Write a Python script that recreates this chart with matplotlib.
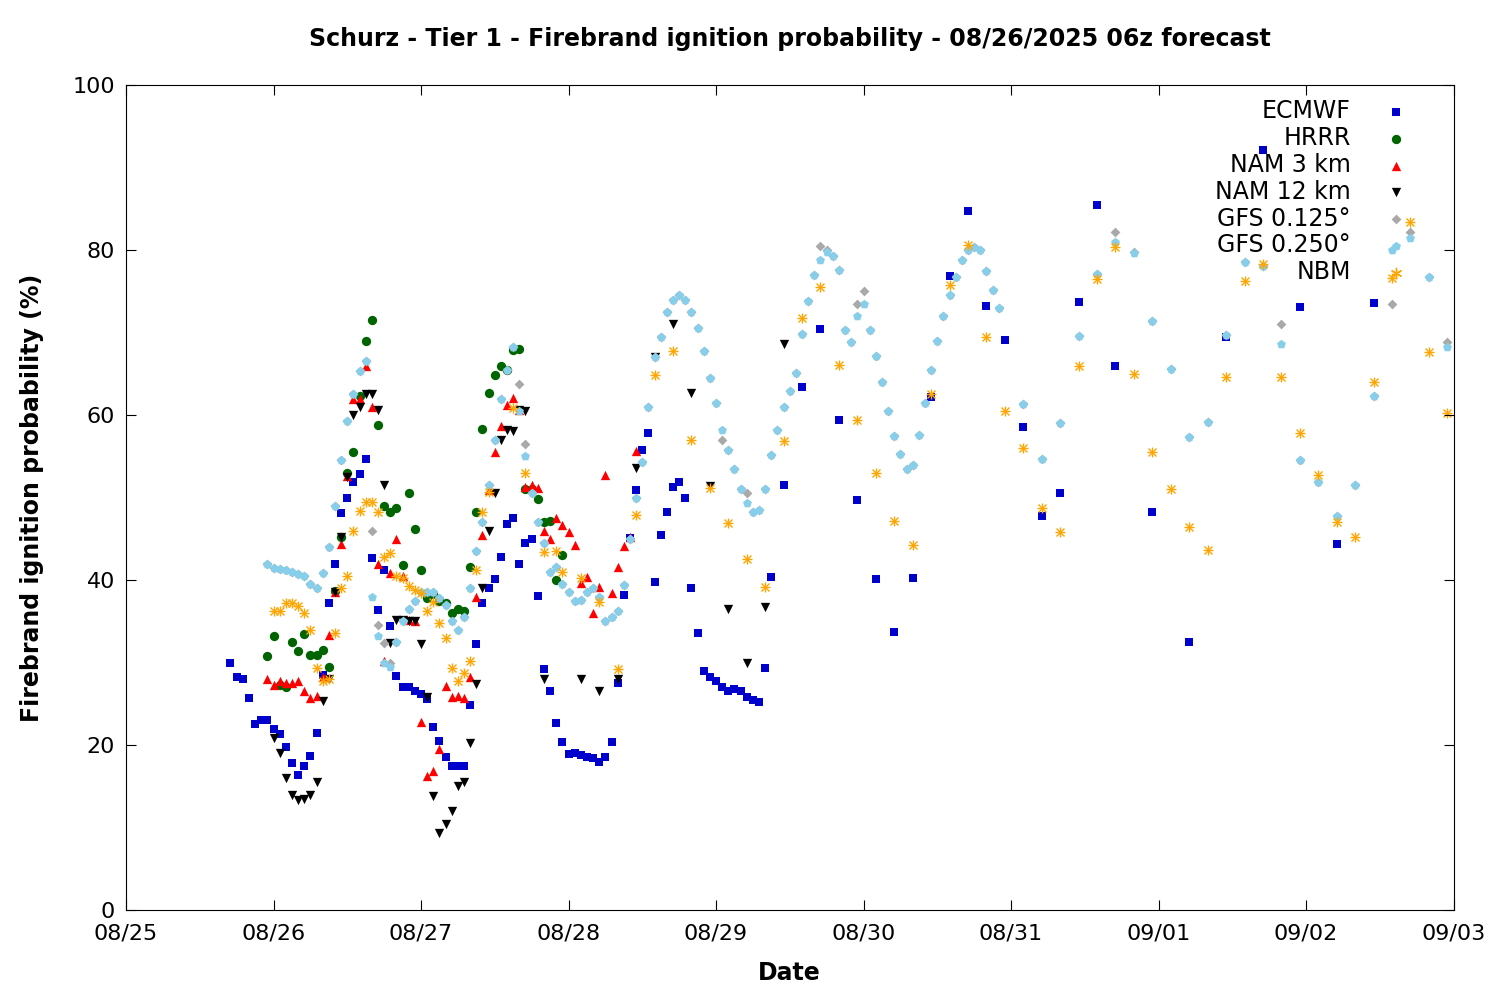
import matplotlib
matplotlib.use("Agg")
import matplotlib.pyplot as plt
import matplotlib.dates as mdates
import numpy as np
import pandas as pd

t0 = pd.Timestamp("2025-08-25 00:00")

# ECMWF: hourly 17..105, 3-hourly 107..161, 6-hourly 167..203
ecmwf_hours = list(range(17, 106)) + list(range(107, 162, 3)) + list(range(167, 204, 6))
ecmwf = [30, 28.2, 28, 25.7, 22.5, 23, 23, 22, 21.3, 19.8, 17.8, 16.4, 17.4, 18.7, 21.4, 28.5,
         37.2, 41.9, 48.1, 49.9, 51.9, 52.8, 54.7, 42.7, 36.4, 41.2, 34.4, 28.4, 27, 27, 26.5, 26.2,
         25.6, 22.2, 20.5, 18.5, 17.4, 17.4, 17.4,
         24.9, 32.3, 37.2, 39, 40.1, 42.8, 46.8, 47.5, 42, 44.5, 45, 38.1, 29.2, 26.6, 22.7, 20.4,
         18.9, 19, 18.8, 18.6, 18.4, 18, 18.5, 20.4, 27.5, 38.2, 45.1, 50.9, 55.7, 57.8,
         39.8, 45.5, 48.3, 51.3, 51.9, 50, 39, 33.6, 29, 28.3, 27.8, 27, 26.6, 26.8, 26.6, 25.8,
         25.5, 25.2, 29.3, 40.4,
         51.5, 63.4, 70.4, 59.4, 49.7, 40.1, 33.7, 40.3, 62.2, 76.9, 84.7, 73.2, 69.1, 58.6,
         47.8, 50.6, 73.7, 85.4, 65.9,
         48.2, 32.5, 69.5, 92.1, 73.1, 44.4, 73.6]

hrrr_hours = list(range(23, 72))
hrrr = [30.8, 33.2, 27.3, 27, 32.5, 31.4, 33.4, 30.9, 30.9, 31.5, 29.5, 38.7, 45.2, 53, 55.5, 62.3,
        69, 71.5, 58.8, 49, 48.2, 48.7, 41.8, 50.5, 46.2, 41.2, 37.8, 38.3, 37.5, 37.2, 36, 36.5,
        36.3, 41.6, 48.2, 58.3, 62.7, 64.8, 66, 65.5, 67.9, 68, 51, 51, 49.8, 47, 47.2, 40, 43]

nam3 = [28, 27.3, 27.8, 27.5, 27.5, 27.8, 26.5, 25.7, 26, 28.2, 33.3, 38.5, 44.4, 52.6, 62, 62,
        66, 61, 41.9, 30.2, 40.8, 45, 40.5, 35.1, 35, 22.8, 16.3, 16.9, 19.5, 27.2, 25.8, 26,
        25.7, 28.2, 38, 45.5, 50.9, 55.5, 58.7, 61.2, 62.1, 60.6, 51.3, 51.5, 51.2, 46, 45, 47.5,
        46.7, 45.8, 44.3, 39.6, 40.4, 36, 39.2, 52.7, 38.4, 41.6, 44.1, 45.2, 55.6]
nam3_hours = list(range(23, 23 + len(nam3)))

nam12_hours = list(range(24, 66)) + [68, 74, 77, 80, 83, 86, 89, 92, 95, 98, 101, 104, 107]
nam12 = [20.8, 19, 16, 14, 13.3, 13.5, 14, 15.5, 25.3, 28, 38.5, 45.2, 52.5, 60, 61, 62.5, 62.5,
         60.6, 51.5, 32.4, 35.1, 35.1, 35, 35, 32.3, 25.8, 13.8, 9.3, 10.4, 12, 15, 15.5, 20.2,
         27.4, 39, 46, 50.5, 57, 58.2, 58.1, 60.6, 60.5,
         28, 28, 26.5, 28, 53.6, 67, 71, 62.7, 51.4, 36.5, 30, 36.7, 68.6]

gfs250_hours = list(range(23, 143)) + list(range(146, 216, 3))
gfs250 = [42, 41.5, 41.3, 41.2, 41, 40.7, 40.5, 39.5, 39, 40.8, 44, 49, 54.5, 59.3, 62.5, 65.3,
          66.5, 38, 33.2, 30, 29.5, 32.5, 35, 36.5, 37.5, 38.5, 38.6, 38.5, 37.8, 37, 35, 34,
          35.5, 39, 43.5, 47, 51.5, 57, 62, 65.5, 68.3, 60.5, 55, 50.5, 47, 44.5, 41, 41.6, 39.5,
          38.5, 37.5, 37.6, 38.5, 39, 38, 35, 35.5, 36.2, 39.4, 45, 50, 54.3, 61, 67, 69.5, 72.5,
          74, 74.6, 74, 72.5, 70.5, 67.8, 64.5, 61.5, 58.2, 55.8, 53.4, 51, 49.3, 48.2, 48.5, 51,
          55.1, 58.2, 61, 62.9, 65.1, 69.8, 73.8, 77, 78.8, 79.8, 79.3, 77.6, 70.3, 68.8,
          72, 73.5, 70.3, 67.2, 64, 60.5, 57.5, 55.3, 53.5, 54, 57.6, 61.5, 65.5, 69, 72, 74.6,
          76.7, 78.8, 80, 80.4, 80, 77.5, 75.2, 73,
          61.3, 54.7, 59, 69.6, 77.1, 81, 79.6, 71.4, 65.6, 57.3, 59.2, 69.7, 78.6, 78.1, 68.6,
          54.6, 51.9, 47.8, 51.5, 62.3, 80, 81.4, 76.7, 68.3]

# GFS 0.125 follows 0.250 closely; values differing visibly
gfs125_hours = gfs250_hours
gfs125_diff = {40: 46, 41: 34.6, 42: 32.4, 43: 30, 64: 63.8, 65: 56.5, 113: 80.5, 114: 80,
               119: 73.5, 120: 75, 161: 82.2, 164: 79.8, 188: 71, 206: 73.5, 209: 82.2,
               215: 68.8, 97: 57, 101: 50.5}
gfs125 = [gfs125_diff.get(h, v) for h, v in zip(gfs250_hours, gfs250)]

nbm_hours = list(range(24, 57)) + [57, 58, 59, 63, 65, 68, 70, 71, 74, 77, 80] + list(range(83, 216, 3))
nbm = [36.3, 36.3, 37.2, 37.2, 36.8, 36, 34, 29.3, 27.8, 28, 33.6, 39, 40.5, 45.9, 48.4, 49.5,
       49.5, 48.2, 42.8, 43.3, 40.5, 40.2, 39.3, 38.8, 38.4, 36.2, 37.3, 34.8, 33, 29.3, 27.7,
       28.7, 30.2,
       41.2, 48.3, 50.7, 60.8, 53, 43.4, 43.5, 41, 40.3, 37.3, 29.2,
       47.9, 64.8, 67.7, 57, 51.2, 46.9, 42.6, 39.2, 56.8, 71.8, 75.5, 66.1, 59.4, 53, 47.1,
       44.3, 62.5, 75.8, 80.6, 69.4, 60.5, 56, 48.7, 45.8, 66, 76.5, 80.4, 65, 55.5, 51, 46.4,
       43.6, 64.6, 76.3, 78.3, 64.6, 57.8, 52.7, 47, 45.2, 64, 76.6, 83.4, 67.6, 60.2]

series = [
    ("ECMWF", ecmwf_hours, ecmwf, "s", "#0000cc", 30),
    ("HRRR", hrrr_hours, hrrr, "o", "#006400", 45),
    ("NAM 3 km", nam3_hours, nam3, "^", "#ff0000", 45),
    ("NAM 12 km", nam12_hours, nam12, "v", "#000000", 45),
    ("GFS 0.125°", gfs125_hours, gfs125, "D", "#a9a9a9", 25),
    ("GFS 0.250°", gfs250_hours, gfs250, "p", "#87ceeb", 45),
    ("NBM", nbm_hours, nbm, "*", "#ffa500", 55),
]

fig = plt.figure(figsize=(15, 10), dpi=100)
ax = fig.add_axes([0.084, 0.09, 0.885, 0.825])
for name, hrs, vals, mk, col, sz in series:
    n = min(len(hrs), len(vals))
    x = [t0 + pd.Timedelta(hours=h) for h in hrs[:n]]
    vals = vals[:n]
    if mk == "*":
        ax.scatter(x, vals, marker="+", color=col, s=sz, linewidths=1)
        ax.scatter(x, vals, marker="x", color=col, s=sz * 0.6, linewidths=1)
        ax.scatter([], [], marker=(6, 2, 0), color=col, s=sz, linewidths=1, label=name)
    else:
        ax.scatter(x, vals, marker=mk, color=col, s=sz, linewidths=0, label=name)

ax.set_xlim(t0, t0 + pd.Timedelta(days=9))
ax.set_ylim(0, 100)
ax.xaxis.set_major_locator(mdates.DayLocator())
ax.xaxis.set_major_formatter(mdates.DateFormatter("%m/%d"))
ax.set_yticks(range(0, 101, 20))
ax.tick_params(labelsize=16, direction="in", length=7, top=True, right=True)
ax.tick_params(axis="x", pad=10)
ax.tick_params(axis="y", pad=8)
ax.set_xlabel("Date", fontsize=17, fontweight="bold", labelpad=12)
ax.set_ylabel("Firebrand ignition probability (%)", fontsize=17, fontweight="bold", labelpad=20)
ax.set_title("Schurz - Tier 1 - Firebrand ignition probability - 08/26/2025 06z forecast",
             fontsize=17, fontweight="bold", pad=28)
ax.legend(loc="upper right", frameon=False, markerfirst=False, fontsize=17,
          handletextpad=0.9, labelspacing=0.12, borderaxespad=0.2,
          bbox_to_anchor=(0.985, 1.0))
fig.savefig("out.png")
